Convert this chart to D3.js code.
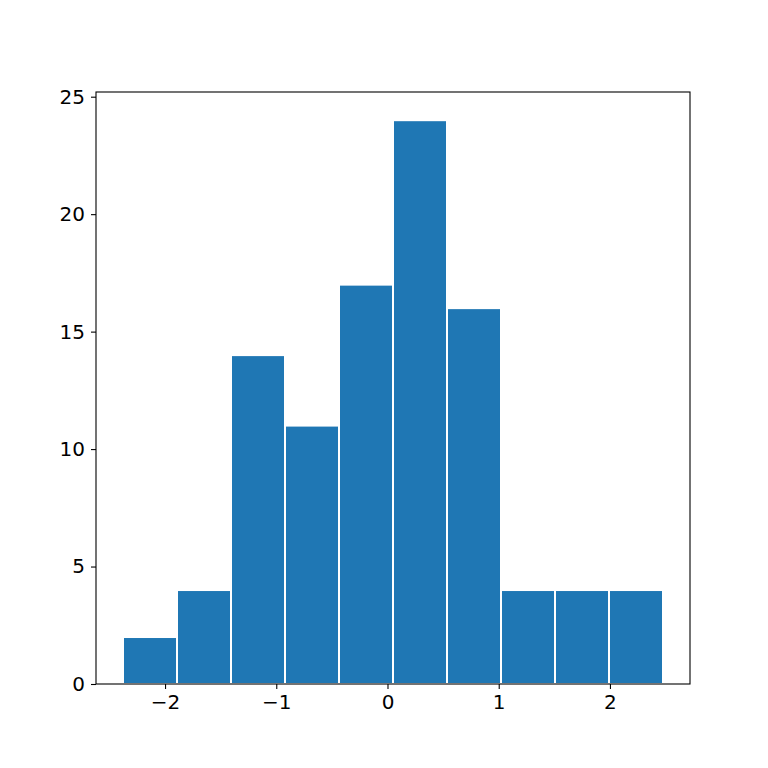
<!DOCTYPE html>
<html><head><meta charset="utf-8">
<script src="https://cdn.jsdelivr.net/npm/d3@7"></script>
<style>body{margin:0;background:#fff}</style></head>
<body><svg id="c" width="768" height="768"></svg>
<script>
const binStart = -2.378;
const binWidth = 0.4855;
const counts = [2, 4, 14, 11, 17, 24, 16, 4, 4, 4];
const xTicks = [-2, -1, 0, 1, 2];
const yTicks = [0, 5, 10, 15, 20, 25];

const svg = d3.select("#c");
const L = 96, R = 690, T = 92, B = 684;
const span = binWidth * counts.length;
const x = d3.scaleLinear().domain([binStart - 0.05 * span, binStart + 1.05 * span]).range([L, R]);
const y = d3.scaleLinear().domain([0, 24 * 1.05]).range([B, T]);

svg.append("g").selectAll("rect").data(counts).join("rect")
  .attr("x", (d, i) => x(binStart + i * binWidth))
  .attr("width", x(binWidth) - x(0))
  .attr("y", d => y(d))
  .attr("height", d => B - y(d))
  .attr("fill", "#1f77b4").attr("stroke", "#fff").attr("stroke-width", 2);

const fmt = d => d < 0 ? "\u2212" + Math.abs(d) : String(d);
const xa = svg.append("g").attr("transform", `translate(0,${B})`)
  .call(d3.axisBottom(x).tickValues(xTicks).tickFormat(fmt).tickSize(5).tickPadding(6));
const ya = svg.append("g").attr("transform", `translate(${L},0)`)
  .call(d3.axisLeft(y).tickValues(yTicks).tickSize(5).tickPadding(6));
[xa, ya].forEach(a => {
  a.select(".domain").remove();
  a.selectAll("text").attr("font-family", "DejaVu Sans").attr("font-size", 20).attr("fill", "#000");
  a.selectAll("line").attr("stroke", "#000").attr("stroke-width", 1.1);
});
svg.append("rect").attr("x", L).attr("y", T).attr("width", R - L).attr("height", B - T)
  .attr("fill", "none").attr("stroke", "#000").attr("stroke-width", 1.1);
</script></body></html>
